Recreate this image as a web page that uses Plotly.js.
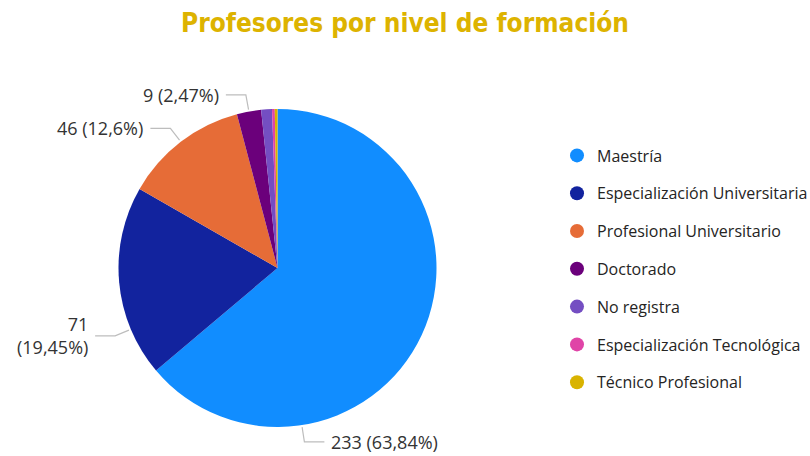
<!DOCTYPE html>
<html><head><meta charset="utf-8">
<script src="https://cdn.plot.ly/plotly-3.0.1.min.js"></script>
<style>html,body{margin:0;padding:0;background:#fff}#chart{width:810px;height:456px}</style>
</head><body><div id="chart"></div>
<script>
const categories = ["Maestría","Especialización Universitaria","Profesional Universitario","Doctorado","No registra","Especialización Tecnológica","Técnico Profesional"];
const values = [233, 71, 46, 9, 4, 1, 1];
const sliceLabels = ["233 (63,84%)", "71<br>(19,45%)", "46 (12,6%)", "9 (2,47%)", "", "", ""];
const colors = ["#118DFF","#12239E","#E66C37","#6B007B","#744EC2","#E044A7","#D9B300"];
// where along each slice its leader line starts (fraction of the slice's sweep)
const leaderAt = [0.745, 0.25, 0.5, 0.5, 0.5, 0.5, 0.5];

const W = 810, H = 456;
const dom = {x: [118/W, 437/W], y: [(H-427)/H, (H-109)/H]};
const pie = {
  type: "pie", labels: categories, values: values,
  textinfo: "none", sort: false, direction: "clockwise", rotation: 0,
  marker: {colors: colors, line: {color: "#fff", width: 0}},
  domain: dom, automargin: false, showlegend: false, hoverinfo: "label+value+percent"
};
const legendTraces = categories.map((c, i) => ({
  type: "scatter", mode: "markers", x: [null], y: [null], name: c, legendgroup: "g" + i,
  marker: {color: colors[i], size: 14, symbol: "circle"}, showlegend: true
}));

// leader lines + labels computed from slice geometry
const total = values.reduce((a, b) => a + b, 0);
const cx = (dom.x[0] + dom.x[1]) / 2 * W;
const cy = (1 - (dom.y[0] + dom.y[1]) / 2) * H;
const R = Math.min((dom.x[1] - dom.x[0]) * W, (dom.y[1] - dom.y[0]) * H) / 2;
const shapes = [], annotations = [];
let cum = 0;
values.forEach((v, i) => {
  const th = 2 * Math.PI * (cum + leaderAt[i] * v) / total;
  cum += v;
  if (!sliceLabels[i]) return;
  const sx = Math.sin(th), sy = -Math.cos(th);
  const p0 = [cx + (R + 2) * sx, cy + (R + 2) * sy];
  const p1 = [p0[0] + 15 * sx, p0[1] + 15 * sy];
  const side = sx >= 0 ? 1 : -1;
  const p2 = [p1[0] + side * 20, p1[1]];
  const px = p => (p[0] / W).toFixed(5) + "," + (1 - p[1] / H).toFixed(5);
  shapes.push({type: "path", xref: "paper", yref: "paper",
    path: "M" + px(p0) + "L" + px(p1) + "L" + px(p2),
    line: {color: "#BDBDBD", width: 1.2}});
  annotations.push({xref: "paper", yref: "paper", x: (p2[0] + side * 5) / W, y: 1 - p2[1] / H,
    xanchor: side > 0 ? "left" : "right", yanchor: "middle", align: side > 0 ? "left" : "right",
    text: sliceLabels[i], showarrow: false,
    font: {family: "Open Sans, Noto Sans, sans-serif", size: 18, color: "#333333"}});
});

const layout = {
  width: W, height: H, margin: {l: 0, r: 0, t: 0, b: 0, autoexpand: false},
  paper_bgcolor: "#fff", plot_bgcolor: "#fff",
  title: {text: "<b>Profesores por nivel de formación</b>", x: 0.5, xanchor: "center", y: 0.95, yanchor: "middle",
    font: {family: "DejaVu Sans Condensed, sans-serif", size: 26, color: "#DDB300"}},
  xaxis: {visible: false}, yaxis: {visible: false},
  legend: {x: 557 / W, xanchor: "left", y: 1 - 269 / H, yanchor: "middle", tracegroupgap: 14, itemwidth: 30,
    font: {family: "Open Sans, Noto Sans, sans-serif", size: 16, color: "#252423"}, bgcolor: "rgba(0,0,0,0)"},
  shapes: shapes, annotations: annotations
};
Plotly.newPlot("chart", [pie, ...legendTraces], layout, {displayModeBar: false, staticPlot: true});
</script></body></html>
